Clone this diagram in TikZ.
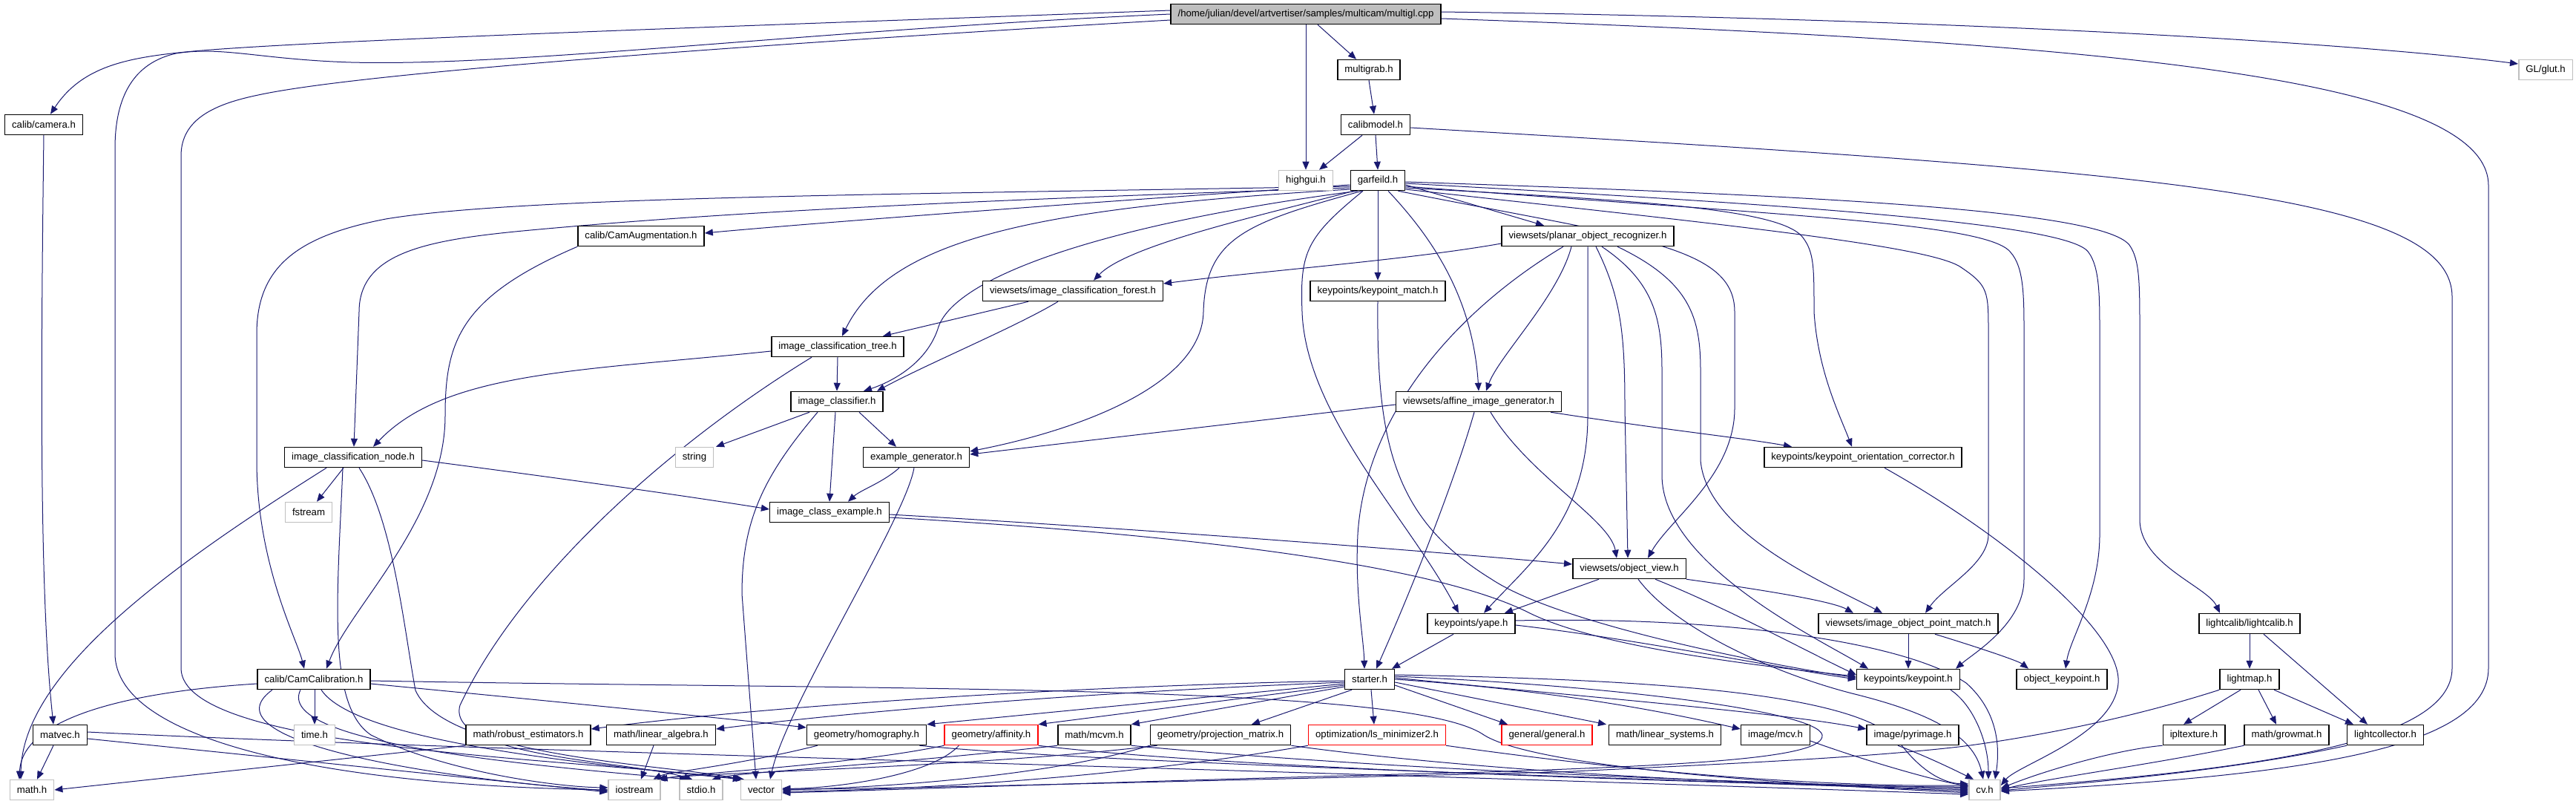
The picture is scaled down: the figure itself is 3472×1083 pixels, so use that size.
\documentclass[tikz,border=0pt]{standalone}
\usepackage{fontspec}
\setmainfont{Liberation Sans}
\usetikzlibrary{arrows.meta}
\pgfdeclarelayer{bg}
\pgfsetlayers{bg,main}
\definecolor{edgec}{RGB}{25,25,112}
\definecolor{extc}{RGB}{191,191,191}
\newcommand\dxfont{\fontsize{13.2}{15}\selectfont}
\begin{document}
\begin{tikzpicture}[x=1pt,y=-1pt,
 box/.style={draw=black, line width=1.5pt, fill=white, inner xsep=9.5pt, inner ysep=0pt, minimum height=27pt, font=\dxfont},
 ext/.style={box, draw=extc},
 trunc/.style={box, draw=red},
 rootbox/.style={box, fill=extc},
 e/.style={draw=edgec, line width=1pt, -{Triangle[length=11pt,width=9pt]}}]
\useasboundingbox (0,0) rectangle (3472,1083);
% nodes
\node[rootbox] (root) at (1760,19) {/home/julian/devel/artvertiser/samples/multicam/multigl.cpp};
\node[box] (camera) at (59,168) {calib/camera.h};
\node[box] (multigrab) at (1845,94) {multigrab.h};
\node[box] (calibmodel) at (1854,168) {calibmodel.h};
\node[ext] (highgui) at (1760,243) {highgui.h};
\node[box] (garfeild) at (1857,243) {garfeild.h};
\node[ext] (glut) at (3431,94) {GL/glut.h};
\node[box] (camaug) at (864,318) {calib/CamAugmentation.h};
\node[box] (por) at (2140,318) {viewsets/planar\_object\_recognizer.h};
\node[box] (forest) at (1446,392) {viewsets/image\_classification\_forest.h};
\node[box] (kpmatch) at (1857,392) {keypoints/keypoint\_match.h};
\node[box] (tree) at (1129,467) {image\_classification\_tree.h};
\node[box] (classifier) at (1128,541) {image\_classifier.h};
\node[box] (affine) at (1993,541) {viewsets/affine\_image\_generator.h};
\node[box] (icnode) at (476,616) {image\_classification\_node.h};
\node[ext] (string) at (936,616) {string};
\node[box] (examplegen) at (1235,616) {example\_generator.h};
\node[box] (kpoc) at (2511,616) {keypoints/keypoint\_orientation\_corrector.h};
\node[ext] (fstream) at (416,690) {fstream};
\node[box] (classex) at (1118,690) {image\_class\_example.h};
\node[box] (objview) at (2196,766) {viewsets/object\_view.h};
\node[box] (yape) at (1983,840) {keypoints/yape.h};
\node[box] (iopm) at (2572,840) {viewsets/image\_object\_point\_match.h};
\node[box] (lightcalib) at (3032,840) {lightcalib/lightcalib.h};
\node[box] (camcal) at (423,915) {calib/CamCalibration.h};
\node[box] (starter) at (1846,915) {starter.h};
\node[box] (keypoint) at (2572,915) {keypoints/keypoint.h};
\node[box] (objkp) at (2779,915) {object\_keypoint.h};
\node[box] (lightmap) at (3032,915) {lightmap.h};
\node[box] (matvec) at (81,990) {matvec.h};
\node[ext] (time) at (424,990) {time.h};
\node[box] (robust) at (712,990) {math/robust\_estimators.h};
\node[box] (linalg) at (891,990) {math/linear\_algebra.h};
\node[box] (homography) at (1168,990) {geometry/homography.h};
\node[trunc] (affinity) at (1336,990) {geometry/affinity.h};
\node[box] (mcvm) at (1475,990) {math/mcvm.h};
\node[box] (projmat) at (1645,990) {geometry/projection\_matrix.h};
\node[trunc] (lsmin) at (1856,990) {optimization/ls\_minimizer2.h};
\node[trunc] (general) at (2085,990) {general/general.h};
\node[box] (linsys) at (2244,990) {math/linear\_systems.h};
\node[box] (mcv) at (2393,990) {image/mcv.h};
\node[box] (pyrimage) at (2578,990) {image/pyrimage.h};
\node[box] (ipltexture) at (2957,990) {ipltexture.h};
\node[box] (growmat) at (3082,990) {math/growmat.h};
\node[box] (lightcollector) at (3215,990) {lightcollector.h};
\node[ext] (mathh) at (43,1064) {math.h};
\node[ext] (iostream) at (855,1064) {iostream};
\node[ext] (stdio) at (945,1064) {stdio.h};
\node[ext] (vector) at (1026,1064) {vector};
\node[ext] (cv) at (2675,1064) {cv.h};
\begin{pgfonlayer}{bg}
\fill[white] (0,0) rectangle (3472,1083);
% root
\draw[e] ([yshift=5pt]root.west) .. controls (1000,35) and (400,55) .. (250,70) .. controls (170,78) and (110,90) .. ([xshift=9pt]camera.north);
\draw[e] (root.west) .. controls (1100,40) and (700,90) .. (473,84) .. controls (350,80) and (300,62) .. (237,72) .. controls (180,85) and (155,130) .. (155,200) -- (155,880) .. controls (155,1000) and (450,1058) .. (iostream.west);
\draw[e] ([yshift=-8pt]root.west) .. controls (1100,55) and (500,95) .. (348,128) .. controls (290,140) and (244,160) .. (244,210) -- (244,900) .. controls (244,1010) and (750,1020) .. ([xshift=5pt]vector.north west);
\draw[e] (root.south) -- (highgui.north);
\draw[e] ([xshift=16pt]root.south) -- ([xshift=-17pt]multigrab.north);
\draw[e] ([yshift=3pt]root.east) .. controls (2600,25) and (3150,55) .. ([yshift=8pt]glut.west);
\draw[e] ([yshift=-6pt]root.east) .. controls (2800,55) and (3354,100) .. (3354,250) -- (3354,900) .. controls (3354,1010) and (3100,1045) .. ([yshift=-2pt]cv.east);
% multigrab / calibmodel
\draw[e] (multigrab.south) -- ([xshift=-2pt]calibmodel.north);
\draw[e] ([xshift=-18pt]calibmodel.south) -- ([xshift=18pt]highgui.north);
\draw[e] (calibmodel.south) -- (garfeild.north);
\draw[e] ([yshift=-4pt]calibmodel.east) .. controls (2900,230) and (3305,260) .. (3305,400) -- (3305,900) .. controls (3305,1000) and (3050,1035) .. ([yshift=2pt]cv.east);
% camera
\draw[e] (camera.south) .. controls (55,500) and (53,800) .. ([xshift=-9pt]matvec.north);
% garfeild
\draw[e] ([yshift=-6pt]garfeild.west) .. controls (1500,270) and (1100,300) .. ([yshift=4pt]camaug.east);
\draw[e] ([yshift=-8pt]garfeild.west) .. controls (1200,262) and (700,265) .. (520,295) .. controls (400,318) and (346,360) .. (346,450) -- (346,620) .. controls (346,760) and (400,860) .. ([xshift=-13pt]camcal.north);
\draw[e] ([yshift=-10pt]garfeild.west) .. controls (1300,270) and (1000,285) .. (760,306) .. controls (600,320) and (484,330) .. (484,420) -- ([xshift=1pt]icnode.north);
\draw[e] ([yshift=-12pt]garfeild.west) .. controls (1400,280) and (1200,320) .. ([xshift=6pt]tree.north);
\draw[e] ([xshift=10pt]garfeild.south west) .. controls (1500,300) and (1290,370) .. (1265,440) .. controls (1250,490) and (1200,515) .. ([xshift=36pt]classifier.north);
\draw[e] ([xshift=5pt]garfeild.south west) .. controls (1700,290) and (1520,330) .. ([xshift=28pt]forest.north);
\draw[e] ([xshift=16pt]garfeild.south west) .. controls (1680,300) and (1625,320) .. (1622,420) .. controls (1620,520) and (1450,580) .. ([yshift=8pt]examplegen.east);
\draw[e] (garfeild.south) -- (kpmatch.north);
\draw[e] ([xshift=14pt]garfeild.south) .. controls (1930,320) and (1985,400) .. (affine.north);
\draw[e] ([xshift=-20pt]garfeild.south) .. controls (1760,320) and (1752,340) .. (1755,420) .. controls (1760,560) and (1900,700) .. ([xshift=-17pt]yape.north);
\draw[e] ([yshift=-6pt]garfeild.east) -- ([xshift=-59pt]por.north);
\draw[e] ([yshift=-2pt]garfeild.east) .. controls (2400,262) and (2830,280) .. (2870,330) .. controls (2884,350) and (2884,380) .. (2884,450) -- (2884,700) .. controls (2884,760) and (2975,790) .. ([xshift=-40pt]lightcalib.north);
\draw[e] ([yshift=-4pt]garfeild.east) .. controls (2400,275) and (2790,300) .. (2815,340) .. controls (2830,360) and (2830,400) .. (2830,450) -- (2830,720) .. controls (2830,800) and (2790,860) .. ([xshift=5pt]objkp.north);
\draw[e] ([yshift=-8pt]garfeild.east) .. controls (2400,290) and (2680,300) .. (2710,340) .. controls (2728,360) and (2728,400) .. (2728,450) -- (2728,780) .. controls (2728,840) and (2660,880) .. ([xshift=64pt]keypoint.north);
\draw[e] ([yshift=-10pt]garfeild.east) .. controls (2200,270) and (2400,280) .. (2430,320) .. controls (2445,340) and (2445,360) .. (2445,420) .. controls (2450,500) and (2480,560) .. ([xshift=-15pt]kpoc.north);
\draw[e] ([yshift=-12pt]garfeild.east) .. controls (2300,300) and (2600,330) .. (2643,360) .. controls (2680,385) and (2680,392) .. (2680,450) -- (2680,720) .. controls (2680,760) and (2620,790) .. ([xshift=23pt]iopm.north);
\draw[e] ([xshift=-10pt]garfeild.south east) .. controls (2200,320) and (2338,330) .. (2338,420) -- (2338,550) .. controls (2338,640) and (2250,700) .. ([xshift=25pt]objview.north);
% camaug
\draw[e] (camaug.south west) .. controls (620,400) and (600,460) .. (600,560) .. controls (600,700) and (470,820) .. ([xshift=17pt]camcal.north);
% por
\draw[e] ([yshift=-10pt]por.west) .. controls (1900,350) and (1700,365) .. ([yshift=10pt]forest.east);
\draw[e] ([xshift=-33pt]por.south) .. controls (1960,420) and (1840,560) .. (1830,720) .. controls (1826,800) and (1838,860) .. ([xshift=-7pt]starter.north);
\draw[e] ([xshift=-22pt]por.south) .. controls (2100,400) and (2020,480) .. ([xshift=10pt]affine.north);
\draw[e] (por.south) -- (2140,560) .. controls (2140,700) and (2060,760) .. ([xshift=17pt]yape.north);
\draw[e] ([xshift=11pt]por.south) .. controls (2185,400) and (2190,450) .. (2190,550) -- ([xshift=-2pt]objview.north);
\draw[e] ([xshift=19pt]por.south) .. controls (2230,380) and (2240,430) .. (2240,500) -- (2240,640) .. controls (2240,760) and (2450,860) .. ([xshift=-54pt]keypoint.north);
\draw[e] ([xshift=40pt]por.south) .. controls (2280,380) and (2292,430) .. (2292,500) -- (2292,620) .. controls (2300,720) and (2470,790) .. ([xshift=-35pt]iopm.north);
% forest
\draw[e] ([xshift=-60pt]forest.south) -- ([xshift=61pt]tree.north);
\draw[e] ([xshift=-20pt]forest.south) .. controls (1370,440) and (1250,490) .. ([xshift=54pt]classifier.north);
% tree
\draw[e] (tree.south) -- (classifier.north);
\draw[e] ([yshift=-6pt]tree.west) .. controls (780,500) and (600,500) .. ([xshift=27pt]icnode.north);
\draw[e] ([xshift=-35pt]tree.south) .. controls (900,600) and (700,780) .. (620,950) .. controls (600,1020) and (850,1025) .. ([xshift=-12pt]stdio.north);
% classifier
\draw[e] ([xshift=-37pt]classifier.south) -- ([xshift=29pt]string.north);
\draw[e] ([xshift=30pt]classifier.south) -- ([xshift=-27pt]examplegen.north);
\draw[e] ([xshift=-2pt]classifier.south) -- (classex.north);
\draw[e] ([xshift=-26pt]classifier.south) .. controls (1030,640) and (1000,700) .. (1000,800) -- ([xshift=-7pt]vector.north);
% examplegen
\draw[e] ([xshift=-23pt]examplegen.south) .. controls (1190,650) and (1160,660) .. ([xshift=25pt]classex.north);
\draw[e] ([xshift=-3pt]examplegen.south) .. controls (1220,700) and (1060,950) .. ([xshift=12pt]vector.north);
% classex
\draw[e] ([yshift=-3pt]classex.east) .. controls (1500,710) and (1900,740) .. ([yshift=6pt]objview.west);
\draw[e] ([yshift=-7pt]classex.east) .. controls (1600,720) and (1930,760) .. (2060,825) .. controls (2150,870) and (2350,895) .. ([yshift=4pt]keypoint.west);
% icnode
\draw[e] ([xshift=-13pt]icnode.south) -- ([xshift=11pt]fstream.north);
\draw[e] ([yshift=-4pt]icnode.east) .. controls (800,650) and (950,672) .. ([yshift=4pt]classex.west);
\draw[e] ([xshift=-36pt]icnode.south) .. controls (250,750) and (30,900) .. ([xshift=-15pt]mathh.north);
\draw[e] ([xshift=-14pt]icnode.south) .. controls (455,800) and (440,950) .. (500,990) .. controls (600,1040) and (750,1060) .. ([yshift=3pt]iostream.west);
\draw[e] ([xshift=8pt]icnode.south) .. controls (530,700) and (545,850) .. (560,930) .. controls (600,1020) and (900,1030) .. ([xshift=2pt]vector.north west);
% camcal
\draw[e] ([yshift=-6pt]camcal.west) .. controls (200,930) and (30,960) .. ([xshift=-17pt]mathh.north);
\draw[e] ([xshift=1pt]camcal.south) -- (time.north);
\draw[e] ([xshift=-56pt]camcal.south) .. controls (270,1000) and (600,1050) .. ([yshift=-1pt]iostream.west);
\draw[e] ([xshift=-18pt]camcal.south) .. controls (370,1000) and (700,1030) .. ([xshift=-18pt]stdio.north);
\draw[e] ([xshift=10pt]camcal.south) .. controls (480,1000) and (800,1030) .. ([xshift=1pt]vector.north west);
\draw[e] ([yshift=-2pt]camcal.east) .. controls (1200,930) and (1900,920) .. (2000,990) .. controls (2080,1040) and (2500,1060) .. ([yshift=-4pt]cv.west);
\draw[e] ([yshift=-6pt]camcal.east) .. controls (800,950) and (1000,970) .. ([yshift=10pt]homography.west);
% matvec
\draw[e] ([xshift=-9pt]matvec.south) -- ([xshift=7pt]mathh.north);
\draw[e] ([yshift=-5pt]matvec.east) -- ([yshift=-3pt]iostream.west);
\draw[e] ([yshift=4pt]matvec.east) .. controls (600,1010) and (1500,1030) .. ([yshift=-6pt]cv.west);
% second level
\draw[e] (robust.south west) -- (mathh.east);
\draw[e] ([xshift=-10pt]linalg.south) -- ([xshift=9pt]iostream.north);
\draw[e] ([xshift=15pt]homography.south west) .. controls (1000,1030) and (900,1040) .. ([xshift=-10pt]iostream.north east);
\draw[e] ([xshift=-10pt]homography.south east) .. controls (1500,1030) and (2300,1050) .. ([yshift=-2pt]cv.west);
\draw[e] (affinity.south west) .. controls (1150,1030) and (950,1040) .. ([xshift=-5pt]iostream.north east);
\draw[e] ([xshift=20pt]affinity.south west) .. controls (1250,1050) and (1100,1063) .. ([yshift=2pt]vector.east);
\draw[e] (affinity.south east) .. controls (1700,1040) and (2400,1055) .. (cv.west);
\draw[e] (mcvm.south west) .. controls (1200,1030) and (1000,1040) .. ([xshift=15pt]stdio.north);
\draw[e] (mcvm.south east) .. controls (1900,1040) and (2400,1055) .. ([yshift=2pt]cv.west);
\draw[e] ([xshift=10pt]projmat.south west) .. controls (1300,1035) and (950,1040) .. ([xshift=-2pt]iostream.north east);
\draw[e] (projmat.south west) .. controls (1400,1050) and (1150,1062) .. (vector.east);
\draw[e] (projmat.south east) .. controls (2000,1040) and (2400,1060) .. ([yshift=4pt]cv.west);
\draw[e] (lsmin.south west) .. controls (1500,1050) and (1200,1065) .. ([yshift=-2pt]vector.east);
\draw[e] (lsmin.south east) .. controls (2200,1040) and (2450,1060) .. ([yshift=6pt]cv.west);
% starter
\draw[e] ([yshift=-2pt]starter.west) .. controls (1400,925) and (1000,955) .. ([yshift=8pt]robust.east);
\draw[e] ([yshift=-4pt]starter.west) .. controls (1400,935) and (1100,965) .. ([yshift=8pt]linalg.east);
\draw[e] ([yshift=-6pt]starter.west) -- (homography.north east);
\draw[e] ([yshift=-8pt]starter.west) -- (affinity.north east);
\draw[e] ([yshift=-10pt]starter.west) -- (mcvm.north east);
\draw[e] ([xshift=-24pt]starter.south) -- ([xshift=42pt]projmat.north);
\draw[e] ([xshift=2pt]starter.south) -- ([xshift=-4pt]lsmin.north);
\draw[e] ([yshift=-8pt]starter.east) -- ([xshift=-53pt]general.north);
\draw[e] ([yshift=-4pt]starter.east) -- ([xshift=-79pt]linsys.north);
\draw[e] ([yshift=0pt]starter.east) .. controls (2100,930) and (2250,960) .. ([yshift=8pt]mcv.west);
\draw[e] ([yshift=2pt]starter.east) .. controls (2150,940) and (2400,960) .. ([yshift=8pt]pyrimage.west);
\draw[e] ([yshift=4pt]starter.east) .. controls (2200,925) and (2450,960) .. (2456,990) .. controls (2460,1020) and (2300,1030) .. (2000,1040) .. controls (1600,1050) and (1200,1064) .. ([yshift=-4pt]vector.east);
\draw[e] ([yshift=6pt]starter.east) .. controls (2200,915) and (2500,930) .. (2560,1000) .. controls (2590,1040) and (2620,1055) .. ([yshift=8pt]cv.west);
% yape
\draw[e] ([xshift=-24pt]yape.south) -- ([xshift=30pt]starter.north);
\draw[e] ([yshift=-2pt]yape.east) .. controls (2200,860) and (2400,900) .. ([yshift=0pt]keypoint.west);
\draw[e] ([yshift=4pt]yape.east) .. controls (2300,830) and (2560,860) .. (2650,920) .. controls (2695,960) and (2695,1010) .. ([xshift=14pt]cv.north);
% objview
\draw[e] ([xshift=-41pt]objview.south) -- ([xshift=45pt]yape.north);
\draw[e] (objview.south east) .. controls (2380,795) and (2470,810) .. ([xshift=-74pt]iopm.north);
\draw[e] ([xshift=35pt]objview.south) .. controls (2330,820) and (2440,880) .. ([yshift=6pt]keypoint.west);
\draw[e] ([xshift=12pt]objview.south) .. controls (2260,850) and (2400,910) .. (2500,935) .. controls (2600,960) and (2660,990) .. ([xshift=-2pt]cv.north);
% affine
\draw[e] ([yshift=-4pt]affine.west) -- ([yshift=4pt]examplegen.east);
\draw[e] ([xshift=-15pt]affine.south east) .. controls (2250,580) and (2350,590) .. ([xshift=-96pt]kpoc.north);
\draw[e] ([xshift=-6pt]affine.south) .. controls (1960,650) and (1900,800) .. ([xshift=9pt]starter.north);
\draw[e] ([xshift=16pt]affine.south) .. controls (2060,640) and (2170,700) .. ([xshift=-17pt]objview.north);
% kpmatch
\draw[e] (kpmatch.south) .. controls (1855,600) and (1880,700) .. (2010,780) .. controls (2100,840) and (2380,895) .. ([yshift=2pt]keypoint.west);
% iopm, keypoint, kpoc
\draw[e] (iopm.south) -- (keypoint.north);
\draw[e] ([xshift=36pt]iopm.south) .. controls (2660,870) and (2720,890) .. ([xshift=-45pt]objkp.north);
\draw[e] ([xshift=57pt]keypoint.south) .. controls (2660,950) and (2680,1000) .. ([xshift=5pt]cv.north);
\draw[e] ([xshift=29pt]kpoc.south) .. controls (2700,720) and (2860,850) .. (2855,920) .. controls (2850,990) and (2720,1030) .. ([yshift=6pt]cv.east);
% lightcalib
\draw[e] (lightcalib.south) -- (lightmap.north);
\draw[e] ([xshift=19pt]lightcalib.south) -- ([xshift=-24pt]lightcollector.north);
\draw[e] ([xshift=-12pt]lightmap.south) -- ([xshift=-14pt]ipltexture.north);
\draw[e] ([xshift=12pt]lightmap.south) -- ([xshift=-14pt]growmat.north);
\draw[e] ([xshift=33pt]lightmap.south) -- ([xshift=-43pt]lightcollector.north);
\draw[e] (lightmap.south west) .. controls (2880,965) and (2750,992) .. (2640,1006) .. controls (2500,1022) and (2300,1030) .. (2100,1040) .. controls (1600,1052) and (1200,1063) .. ([yshift=1pt]vector.east);
\draw[e] (ipltexture.south west) .. controls (2850,1010) and (2750,1040) .. ([yshift=2pt]cv.east);
\draw[e] (growmat.south west) .. controls (2900,1030) and (2750,1050) .. (cv.east);
\draw[e] (lightcollector.south west) .. controls (3000,1040) and (2800,1055) .. ([yshift=-1pt]cv.east);
\draw[e] ([yshift=-8pt]mcv.east) .. controls (2500,1020) and (2600,1050) .. ([yshift=5pt]cv.west);
\draw[e] ([xshift=-20pt]pyrimage.south) .. controls (2600,1020) and (2640,1040) .. ([xshift=-15pt]cv.north);
\end{pgfonlayer}
\end{tikzpicture}
\end{document}
